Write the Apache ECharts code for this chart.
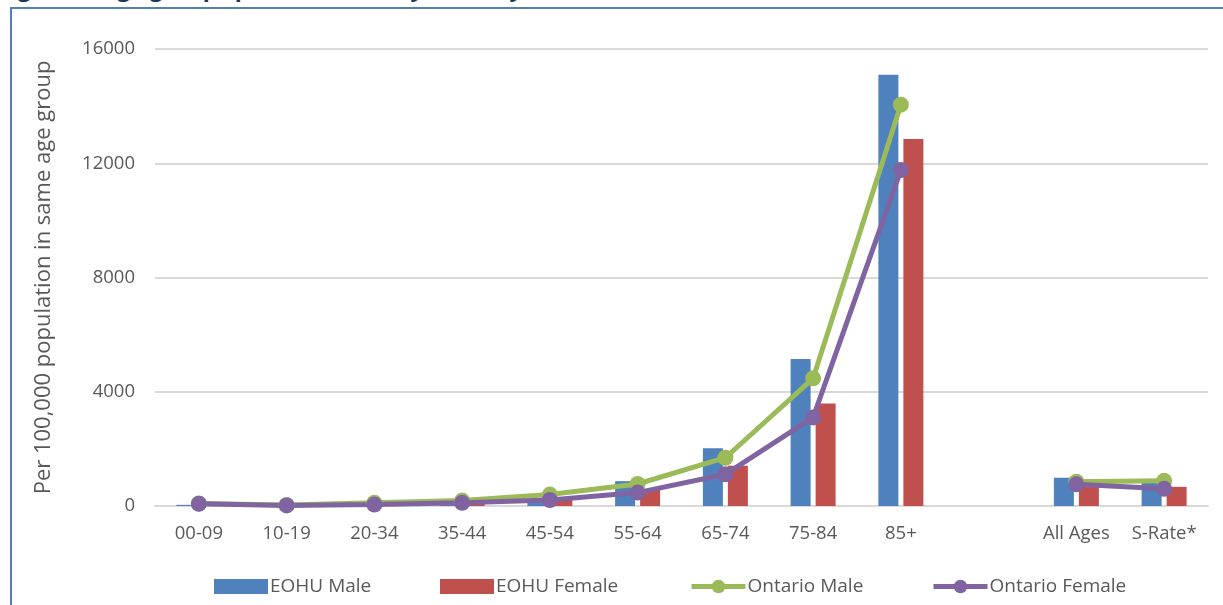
<!DOCTYPE html>
<html>
<head>
<meta charset="utf-8">
<script src="https://cdn.jsdelivr.net/npm/echarts@6/dist/echarts.min.js"></script>
<style>
  html, body { margin:0; padding:0; background:#fff; overflow:hidden; }
  #title { position:absolute; left:-2px; top:-24px; font:bold 23px "Open Sans", sans-serif; color:#17375e; white-space:nowrap; line-height:23px; }
  #frame { position:absolute; left:10px; top:7px; width:1260px; height:650px; border:2px solid #4f81bd; box-sizing:border-box; background:#fff; }
  #main { position:absolute; left:0; top:0; width:1223px; height:605px; }
</style>
</head>
<body>
<div id="title">Figure 4: Age group specific mortality rates by sex, EOHU and Ontario, 2012</div>
<div id="frame"></div>
<div id="main"></div>
<script>
// age groups (blank slot separates the age groups from the totals)
var categories = ['00-09','10-19','20-34','35-44','45-54','55-64','65-74','75-84','85+','','All Ages','S-Rate*'];
var eohuMale      = [40, 25, 80, 140, 190, 870, 2020, 5150, 15100, '-', 990, 930];
var eohuFemale    = [30, 15, 40, 90, 240, 600, 1410, 3590, 12850, '-', 930, 670];
var ontarioMale   = [90, 35, 110, 190, 400, 770, 1690, 4470, 14050, '-', 850, 880];
var ontarioFemale = [75, 20, 50, 110, 210, 470, 1110, 3100, 11760, '-', 760, 600];
var yTicks = [0, 4000, 8000, 12000, 16000];

var chartDom = document.getElementById('main');
var myChart = echarts.init(chartDom);

var txt = '#595959';
var font = 'Open Sans';

function legendAt(name, left, icon) {
  var l = {
    data: [{ name: name, icon: icon }],
    left: left, top: 572,
    itemWidth: 54, itemHeight: 15, itemGap: 0,
    textStyle: { color: txt, fontFamily: font, fontSize: 19, padding: [0, 0, 0, -3] }
  };
  if (!icon) {
    delete l.data[0].icon;
    l.lineStyle = { width: 5 };
    l.itemHeight = 17;
  }
  return l;
}

var option = {
  animation: false,
  grid: { left: 155, right: 15, top: 49, bottom: 99 },
  legend: [
    legendAt('EOHU Male', 209, 'rect'),
    legendAt('EOHU Female', 435, 'rect'),
    legendAt('Ontario Male', 684),
    legendAt('Ontario Female', 926)
  ],
  xAxis: {
    type: 'category',
    data: categories,
    axisLine: { lineStyle: { color: '#d9d9d9', width: 2 } },
    axisTick: { show: false },
    axisLabel: { color: txt, fontFamily: font, fontSize: 18.5, margin: 18, interval: 0 }
  },
  yAxis: {
    type: 'value',
    min: yTicks[0], max: yTicks[yTicks.length - 1], interval: 4000,
    name: 'Per 100,000 population in same age group',
    nameLocation: 'middle',
    nameGap: 100,
    nameTextStyle: { color: txt, fontFamily: font, fontSize: 22 },
    axisLine: { show: false },
    axisTick: { show: false },
    axisLabel: { color: txt, fontFamily: font, fontSize: 18.5, margin: 20,
      formatter: function (v) { return String(v); } },
    splitLine: { lineStyle: { color: '#d9d9d9', width: 2 } }
  },
  series: [
    { name: 'EOHU Male', type: 'bar', data: eohuMale, barWidth: 20, barGap: '25%',
      itemStyle: { color: '#4f81bd' } },
    { name: 'EOHU Female', type: 'bar', data: eohuFemale, barWidth: 20,
      itemStyle: { color: '#c0504d' } },
    { name: 'Ontario Male', type: 'line', data: ontarioMale, connectNulls: false,
      symbol: 'circle', symbolSize: 16,
      lineStyle: { color: '#9bbb59', width: 5 }, itemStyle: { color: '#9bbb59' } },
    { name: 'Ontario Female', type: 'line', data: ontarioFemale, connectNulls: false,
      symbol: 'circle', symbolSize: 16,
      lineStyle: { color: '#8064a2', width: 5 }, itemStyle: { color: '#8064a2' } }
  ]
};

myChart.setOption(option);
</script>
</body>
</html>
